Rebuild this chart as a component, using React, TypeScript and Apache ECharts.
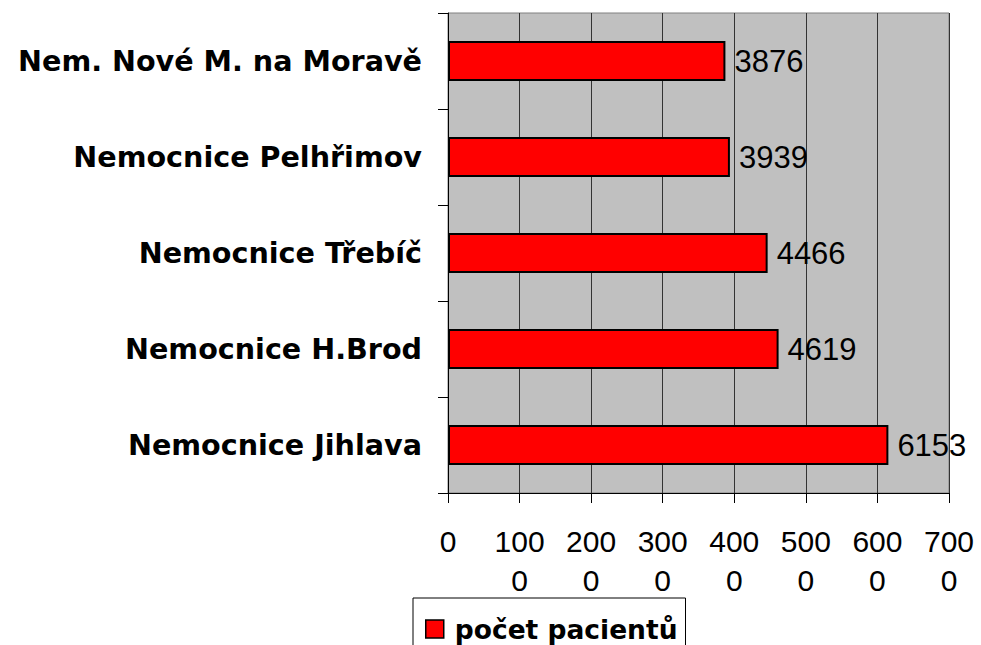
import React, { useEffect, useRef } from "react";
import * as echarts from "echarts";

const categories = [
  "Nem. Nové M. na Moravě",
  "Nemocnice Pelhřimov",
  "Nemocnice Třebíč",
  "Nemocnice H.Brod",
  "Nemocnice Jihlava",
];
const patients = [3876, 3939, 4466, 4619, 6153];
const seriesName = "počet pacientů";
const xMin = 0;
const xMax = 7000;
const xStep = 1000;

export default function App() {
  const ref = useRef<HTMLDivElement>(null);
  useEffect(() => {
    const chart = echarts.init(ref.current!, null, { renderer: "svg" });
    chart.setOption({
      animation: false,
      backgroundColor: "#ffffff",
      grid: {
        left: 448,
        right: 32,
        top: 13,
        bottom: 152,
        show: true,
        backgroundColor: "#C0C0C0",
        borderColor: "#808080",
        borderWidth: 1,
      },
      legend: {
        show: true,
        left: 413,
        top: 598,
        orient: "horizontal",
        borderColor: "#000",
        borderWidth: 1,
        padding: [17, 8, 20, 12],
        itemWidth: 18,
        itemHeight: 18,
        icon: "rect",
        itemStyle: { borderColor: "#000", borderWidth: 1.5 },
        textStyle: {
          fontFamily: "DejaVu Sans",
          fontWeight: "bold",
          fontSize: 26.5,
          lineHeight: 28,
          color: "#000",
          padding: [0, 0, 0, 6],
        },
        data: [seriesName],
      },
      xAxis: {
        type: "value",
        min: xMin,
        max: xMax,
        interval: xStep,
        axisLine: { show: true, lineStyle: { color: "#000", width: 1 } },
        axisTick: { show: true, length: 10, lineStyle: { color: "#000" } },
        splitLine: { show: true, lineStyle: { color: "#333", width: 1 } },
        axisLabel: {
          margin: 29,
          fontFamily: "Liberation Sans",
          fontSize: 30,
          lineHeight: 39,
          color: "#000",
          formatter: (v: number) => {
            const s = String(v);
            return s.length > 3 ? s.slice(0, 3) + "\n" + s.slice(3) : s;
          },
        },
      },
      yAxis: {
        type: "category",
        data: categories,
        inverse: true,
        axisLine: { show: true, lineStyle: { color: "#000", width: 1 } },
        axisTick: { show: true, length: 10, lineStyle: { color: "#000" } },
        axisLabel: {
          margin: 26,
          fontFamily: "DejaVu Sans",
          fontWeight: "bold",
          fontSize: 28.6,
          color: "#000",
        },
      },
      series: [
        {
          name: seriesName,
          type: "bar",
          data: patients,
          barWidth: 40,
          itemStyle: { color: "#FF0000", borderColor: "#000", borderWidth: 2 },
          label: {
            show: true,
            position: "right",
            distance: 9,
            fontFamily: "Liberation Sans",
            fontSize: 31,
            color: "#000",
          },
        },
      ],
    });
    return () => chart.dispose();
  }, []);
  return <div ref={ref} style={{ width: 981, height: 645, position: "absolute", left: 0, top: 0 }} />;
}
